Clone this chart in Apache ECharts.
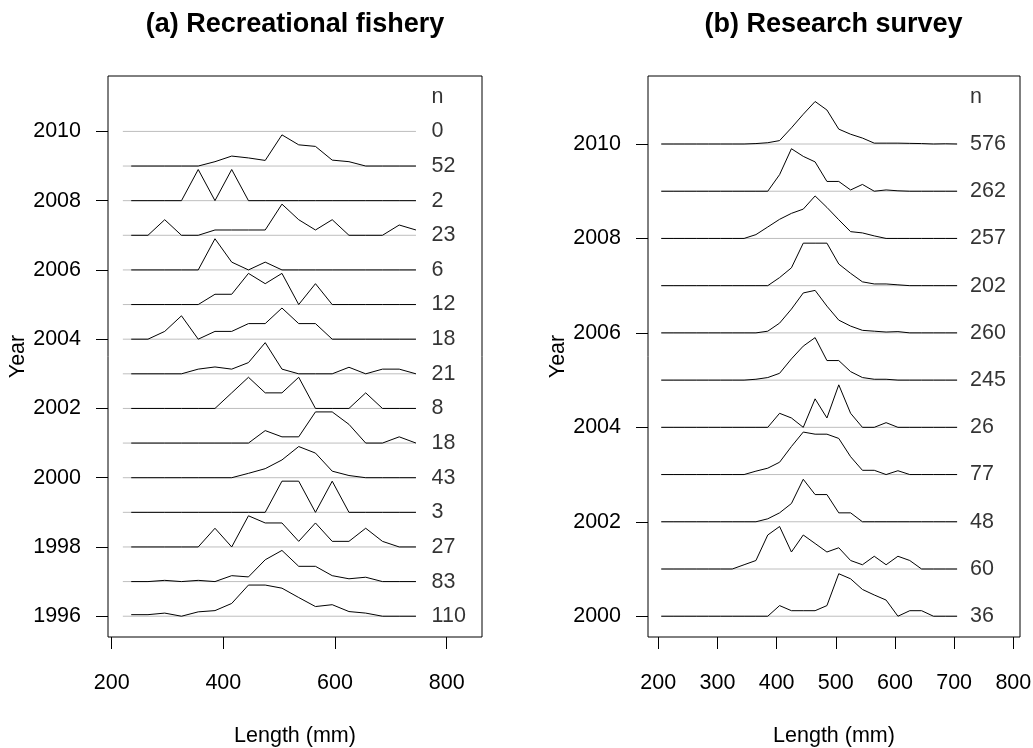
<!DOCTYPE html>
<html><head><meta charset="utf-8">
<script src="https://cdn.jsdelivr.net/npm/echarts@6/dist/echarts.min.js"></script>
<style>html,body{margin:0;padding:0;background:#fff}#c{width:1033px;height:748px}</style>
</head><body><div id="c"></div>
<script>
// ---------- Panel (a): Recreational fishery ----------
const recLengths = [235,265,295,325,355,385,415,445,475,505,535,565,595,625,655,685,715,745];
const recYears = [2010,2009,2008,2007,2006,2005,2004,2003,2002,2001,2000,1999,1998,1997,1996];
const recN     = [0,52,2,23,6,12,18,21,8,18,43,3,27,83,110];
// relative frequency (proportion of the year's maximum), per length bin
const rec2010 = null;
const rec2009 = [0,0,0,0,0,0.14,0.32,0.26,0.18,1,0.68,0.63,0.19,0.14,0,0,0,0];
const rec2008 = [0,0,0,0,1,0,1,0,0,0,0,0,0,0,0,0,0,0];
const rec2007 = [0,0,0.5,0,0,0.17,0.17,0.17,0.17,1,0.5,0.17,0.5,0,0,0,0.33,0.17];
const rec2006 = [0,0,0,0,0,1,0.25,0,0.25,0,0,0,0,0,0,0,0,0];
const rec2005 = [0,0,0,0,0,0.33,0.33,1,0.67,1,0,0.67,0,0,0,0,0,0];
const rec2004 = [0,0,0.25,0.75,0,0.25,0.25,0.5,0.5,1,0.5,0.5,0,0,0,0,0,0];
const rec2003 = [0,0,0,0,0.15,0.22,0.15,0.36,1,0.15,0,0,0,0.21,0,0.15,0.15,0];
const rec2002 = [0,0,0,0,0,0,0.5,1,0.5,0.5,1,0,0,0,0.5,0,0,0];
const rec2001 = [0,0,0,0,0,0,0,0,0.4,0.2,0.2,1,1,0.6,0,0,0.2,0];
const rec2000 = [0,0,0,0,0,0,0,0.14,0.29,0.57,1,0.79,0.21,0.07,0,0,0,0];
const rec1999 = [0,0,0,0,0,0,0,0,0,1,1,0,1,0,0,0,0,0];
const rec1998 = [0,0,0,0,0,0.6,0,1,0.77,0.77,0.18,0.77,0.18,0.18,0.6,0.18,0,0];
const rec1997 = [0,0,0.04,0,0.04,0,0.19,0.15,0.7,1,0.49,0.49,0.19,0.09,0.14,0,0,0];
const rec1996 = [0.05,0.05,0.1,0,0.14,0.18,0.41,1,1,0.9,0.6,0.31,0.37,0.15,0.1,0,0,0];
const recCurves = [rec2010,rec2009,rec2008,rec2007,rec2006,rec2005,rec2004,rec2003,rec2002,rec2001,rec2000,rec1999,rec1998,rec1997,rec1996];
const recYTicks = [1996,1998,2000,2002,2004,2006,2008,2010];
const recXTicks = [200,400,600,800];

// ---------- Panel (b): Research survey ----------
const surLengths = [205,225,245,265,285,305,325,345,365,385,405,425,445,465,485,505,525,545,565,585,605,625,645,665,685,705];
const surYears = [2010,2009,2008,2007,2006,2005,2004,2003,2002,2001,2000];
const surN     = [576,262,257,202,260,245,26,77,48,60,36];
const sur2010 = [0,0,0,0,0,0,0,0,0.01,0.03,0.08,0.38,0.7,1,0.8,0.35,0.23,0.14,0.02,0.02,0.02,0.015,0.01,0,0.005,0];
const sur2009 = [0,0,0,0,0,0,0,0,0,0,0.39,1,0.82,0.69,0.23,0.23,0.03,0.16,0,0.03,0.01,0,0,0,0,0];
const sur2008 = [0,0,0,0,0,0,0,0,0.09,0.27,0.45,0.59,0.69,1,0.73,0.44,0.16,0.13,0.06,0,0,0,0,0,0,0];
const sur2007 = [0,0,0,0,0,0,0,0,0,0,0.19,0.42,1,1,1,0.51,0.29,0.09,0.04,0.04,0.02,0,0,0,0,0];
const sur2006 = [0,0,0,0,0,0,0,0,0,0.04,0.23,0.56,0.94,1,0.63,0.3,0.16,0.06,0.04,0.02,0.03,0,0,0,0,0];
const sur2005 = [0,0,0,0,0,0,0,0,0.02,0.06,0.16,0.5,0.8,1,0.46,0.46,0.2,0.06,0.02,0.02,0,0,0,0,0,0];
const sur2004 = [0,0,0,0,0,0,0,0,0,0,0.33,0.22,0,0.67,0.22,1,0.33,0,0,0.11,0,0,0,0,0,0];
const sur2003 = [0,0,0,0,0,0,0,0,0.08,0.15,0.29,0.66,1,0.95,0.95,0.85,0.42,0.1,0.1,0,0.09,0,0,0,0,0];
const sur2002 = [0,0,0,0,0,0,0,0,0,0.07,0.21,0.43,1,0.64,0.64,0.21,0.21,0,0,0,0,0,0,0,0,0];
const sur2001 = [0,0,0,0,0,0,0,0.1,0.2,0.8,1,0.4,0.8,0.6,0.4,0.5,0.2,0.1,0.3,0.1,0.3,0.2,0,0,0,0];
const sur2000 = [0,0,0,0,0,0,0,0,0,0,0.25,0.13,0.13,0.13,0.25,1,0.88,0.63,0.5,0.38,0,0.13,0.13,0,0,0];
const surCurves = [sur2010,sur2009,sur2008,sur2007,sur2006,sur2005,sur2004,sur2003,sur2002,sur2001,sur2000];
const surYTicks = [2000,2002,2004,2006,2008,2010];
const surXTicks = [200,300,400,500,600,700,800];

// ---------- styling / layout ----------
const FONT = "'Liberation Sans', Arial, Helvetica, sans-serif";
const FS = 21.5;
const RIDGE = 0.9;  // ridge height in year units

const panels = [
  {lengths: recLengths, years: recYears, n: recN, curves: recCurves, yTicks: recYTicks, xTicks: recXTicks,
   base: [220, 745], labelX: 773, xMin: 193.4, xMax: 863.3, yMin: 1995.4, yMax: 2011.6,
   grid: {left: 108, top: 76, width: 374, height: 561}},
  {lengths: surLengths, years: surYears, n: surN, curves: surCurves, yTicks: surYTicks, xTicks: surXTicks,
   base: [205, 705], labelX: 726.8, xMin: 182.6, xMax: 811.3, yMin: 1999.56, yMax: 2011.44,
   grid: {left: 648, top: 76, width: 372, height: 561}}
];

const plain = v => String(Math.round(v));
const grids = [], xAxes = [], yAxes = [], series = [];
panels.forEach((p, gi) => {
  grids.push(Object.assign({show: true, borderColor: '#000', borderWidth: 1, backgroundColor: 'transparent',
    containLabel: false, outerBoundsMode: 'none'}, p.grid));
  xAxes.push({
    gridIndex: gi, type: 'value', min: p.xMin, max: p.xMax,
    axisLine: {show: false}, splitLine: {show: false},
    axisTick: {show: true, inside: false, length: 12, lineStyle: {color: '#000', width: 1}, customValues: p.xTicks},
    axisLabel: {show: true, customValues: p.xTicks, formatter: plain, margin: 35, fontSize: FS, color: '#000', fontFamily: FONT},
    name: 'Length (mm)', nameLocation: 'middle', nameGap: 88,
    nameTextStyle: {fontSize: FS, color: '#000', fontFamily: FONT}
  });
  yAxes.push({
    gridIndex: gi, type: 'value', min: p.yMin, max: p.yMax,
    axisLine: {show: false}, splitLine: {show: false},
    axisTick: {show: true, inside: false, length: 12, lineStyle: {color: '#000', width: 1}, customValues: p.yTicks},
    axisLabel: {show: true, customValues: p.yTicks, formatter: plain, margin: 27, fontSize: FS, color: '#000', fontFamily: FONT},
    name: 'Year', nameLocation: 'middle', nameGap: 68, nameRotate: 90,
    nameTextStyle: {fontSize: FS, color: '#000', fontFamily: FONT}
  });
  // gray baselines
  p.years.forEach(y => {
    series.push({type: 'line', xAxisIndex: gi, yAxisIndex: gi, silent: true, symbol: 'none', z: 1,
      lineStyle: {color: '#bebebe', width: 1}, data: [[p.base[0], y], [p.base[1], y]]});
  });
  // black frequency curves
  p.years.forEach((y, i) => {
    const h = p.curves[i];
    if (!h) return;
    series.push({type: 'line', xAxisIndex: gi, yAxisIndex: gi, silent: true, symbol: 'none', z: 3,
      lineStyle: {color: '#000', width: 1}, data: p.lengths.map((x, k) => [x, y + h[k] * RIDGE])});
  });
  // n labels (sample sizes) plus the "n" header one year above the top year
  const lab = p.years.map((y, i) => [p.labelX, y, String(p.n[i])]);
  lab.push([p.labelX, 2011, 'n']);
  series.push({type: 'scatter', xAxisIndex: gi, yAxisIndex: gi, silent: true, symbolSize: 0, z: 4,
    label: {show: true, position: 'right', distance: 0, formatter: q => q.value[2],
      fontSize: FS, color: '#000', fontFamily: FONT},
    data: lab});
});

const chart = echarts.init(document.getElementById('c'), null, {renderer: 'canvas'});
chart.setOption({
  animation: false,
  backgroundColor: '#fff',
  grid: grids, xAxis: xAxes, yAxis: yAxes, series: series,
  graphic: [
    {type: 'text', x: 295, y: 25, style: {text: '(a) Recreational fishery', textAlign: 'center', textVerticalAlign: 'middle',
      font: 'bold 27px ' + FONT, fill: '#000'}},
    {type: 'text', x: 833.5, y: 25, style: {text: '(b) Research survey', textAlign: 'center', textVerticalAlign: 'middle',
      font: 'bold 27px ' + FONT, fill: '#000'}}
  ]
});
</script></body></html>
